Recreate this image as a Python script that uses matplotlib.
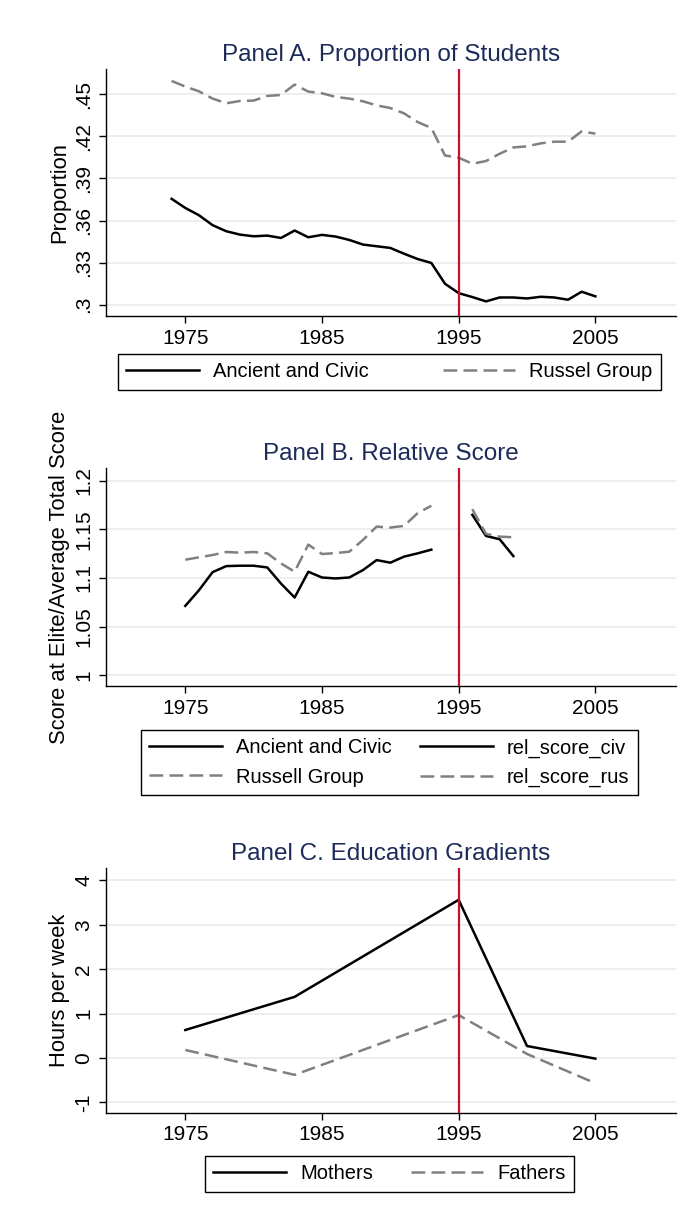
import matplotlib
matplotlib.use("Agg")
import matplotlib.pyplot as plt

# Panel A data: proportion of students
years_a = list(range(1974, 2006))
civic_a = [0.3755, 0.369, 0.3638, 0.3567, 0.3524, 0.350, 0.3488, 0.3493, 0.3476, 0.3529,
           0.3481, 0.3498, 0.3486, 0.3462, 0.3429, 0.3417, 0.3405, 0.3364, 0.3326, 0.3298,
           0.315, 0.3083, 0.3055, 0.3024, 0.3052, 0.3052, 0.3045, 0.3057, 0.3052, 0.3036,
           0.3093, 0.306]
russell_a = [0.4595, 0.4555, 0.4521, 0.4469, 0.4436, 0.4452, 0.4455, 0.4488, 0.4495, 0.4569,
             0.4519, 0.4507, 0.4481, 0.4469, 0.445, 0.4421, 0.4402, 0.4364, 0.4302, 0.426,
             0.4064, 0.4048, 0.4005, 0.4024, 0.4076, 0.4121, 0.4129, 0.415, 0.4162, 0.4162,
             0.4236, 0.4219]

# Panel B data: relative score
years_b1 = list(range(1975, 1994))
civic_b1 = [1.0713, 1.0874, 1.106, 1.1122, 1.1126, 1.1126, 1.1108, 1.0943, 1.0799, 1.1064,
            1.1005, 1.0995, 1.1005, 1.1081, 1.1184, 1.1157, 1.1219, 1.1253, 1.1291]
russell_b1 = [1.1188, 1.1212, 1.1236, 1.1267, 1.126, 1.1267, 1.1253, 1.115, 1.1064, 1.1343,
              1.1246, 1.1256, 1.127, 1.1391, 1.1528, 1.1518, 1.1535, 1.1666, 1.1742]
years_b2 = [1996, 1997, 1998, 1999]
civic_b2 = [1.1649, 1.1432, 1.1398, 1.1225]
russell_b2 = [1.1707, 1.1453, 1.1425, 1.1418]

# Panel C data: education gradients
years_c = [1975, 1983, 1995, 2000, 2005]
mothers = [0.63, 1.377, 3.563, 0.269, -0.015]
fathers = [0.18, -0.38, 0.966, 0.09, -0.569]

xticks = [1975, 1985, 1995, 2005]

plt.rcParams["font.family"] = "Liberation Sans"
TITLE_COL = "#1c2b59"
GRAY = "#808080"
RED = "#c8102e"
GRID = "#e6eef0"
DASH = (5.5, 2.5)

W, H = 691, 1228
fig = plt.figure(figsize=(W / 100, H / 100), dpi=100)


def make_axes(top, bottom):
    left, right = 106, 676
    return fig.add_axes([left / W, 1 - bottom / H, (right - left) / W, (bottom - top) / H])


def style_axes(ax, title, ylabel, yticks, ylabels, ylim):
    ax.set_xlim(1969.2, 2010.9)
    ax.set_ylim(*ylim)
    ax.set_xticks(xticks)
    ax.set_xticklabels([str(t) for t in xticks], fontsize=15)
    ax.set_yticks(yticks)
    ax.set_yticklabels(ylabels, fontsize=15, rotation=90, va="center")
    for y in yticks:
        ax.axhline(y, color=GRID, lw=1.2, zorder=0)
    ax.spines["top"].set_visible(False)
    ax.spines["right"].set_visible(False)
    ax.spines["left"].set_linewidth(1.0)
    ax.spines["bottom"].set_linewidth(1.0)
    ax.tick_params(axis="both", length=5, width=1.0, direction="out", pad=4)
    ax.set_title(title, fontsize=17.5, color=TITLE_COL, pad=6)
    ax.set_ylabel(ylabel, fontsize=15.8, va="center")
    ax.yaxis.set_label_coords((60 - 106) / 570, 0.5)
    ax.axvline(1995, color=RED, lw=1.6, zorder=3)


def add_legend(ax, handles, labels, x0, x1, y0):
    leg = ax.legend(handles, labels, ncol=2, mode="expand", loc="upper left",
                    bbox_to_anchor=(x0 / W, 1 - y0 / H, (x1 - x0) / W, 0),
                    bbox_transform=fig.transFigure, fontsize=14.5, fancybox=False,
                    framealpha=1, edgecolor="black", handlelength=3.6,
                    borderaxespad=0, borderpad=0.42, columnspacing=1.5,
                    handletextpad=0.7, labelspacing=0.5)
    leg.get_frame().set_linewidth(1.0)


# Panel A
ax1 = make_axes(69, 316)
l1, = ax1.plot(years_a, civic_a, color="black", lw=1.8)
l2, = ax1.plot(years_a, russell_a, color=GRAY, lw=1.8, dashes=DASH)
style_axes(ax1, "Panel A. Proportion of Students", "Proportion",
           [0.3, 0.33, 0.36, 0.39, 0.42, 0.45], [".3", ".33", ".36", ".39", ".42", ".45"],
           (0.292, 0.468))
add_legend(ax1, [l1, l2], ["Ancient and Civic", "Russel Group"], 118, 661, 354)

# Panel B
ax2 = make_axes(468, 686)
b1, = ax2.plot(years_b1, civic_b1, color="black", lw=1.8)
b2, = ax2.plot(years_b1, russell_b1, color=GRAY, lw=1.8, dashes=DASH)
b3, = ax2.plot(years_b2, civic_b2, color="black", lw=1.8)
b4, = ax2.plot(years_b2, russell_b2, color=GRAY, lw=1.8, dashes=DASH)
style_axes(ax2, "Panel B. Relative Score", "Score at Elite/Average Total Score",
           [1, 1.05, 1.1, 1.15, 1.2], ["1", "1.05", "1.1", "1.15", "1.2"],
           (0.989, 1.213))
add_legend(ax2, [b1, b2, b3, b4],
           ["Ancient and Civic", "Russell Group", "rel_score_civ", "rel_score_rus"],
           141, 638, 730)

# Panel C
ax3 = make_axes(868, 1113)
c1, = ax3.plot(years_c, mothers, color="black", lw=1.8)
c2, = ax3.plot(years_c, fathers, color=GRAY, lw=1.8, dashes=DASH)
style_axes(ax3, "Panel C. Education Gradients", "Hours per week",
           [-1, 0, 1, 2, 3, 4], ["-1", "0", "1", "2", "3", "4"], (-1.24, 4.28))
add_legend(ax3, [c1, c2], ["Mothers", "Fathers"], 205, 574, 1156)

fig.savefig("out.png", dpi=100)
